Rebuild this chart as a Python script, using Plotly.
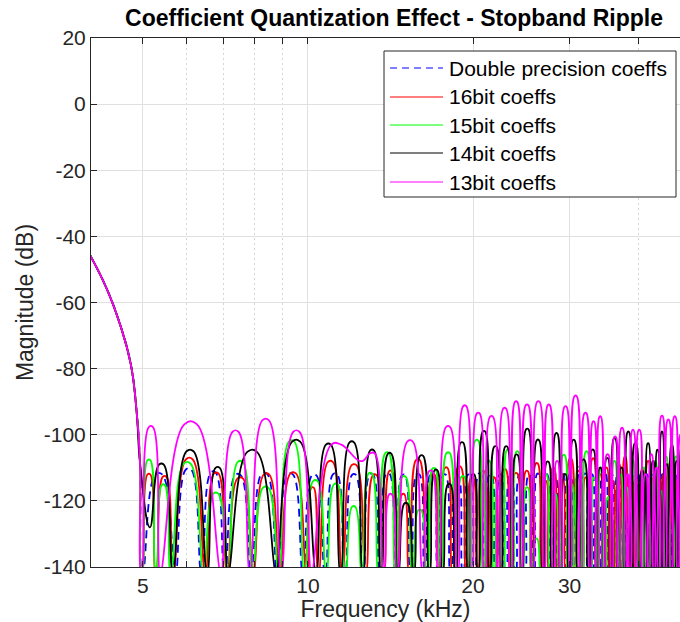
import math
import plotly.graph_objects as go

# ---------------- data ----------------
# shared pass/transition-band roll-off (identical for every coefficient set)
rolloff_khz = [4.0, 4.3, 4.55, 4.75, 4.87, 4.94]
rolloff_db = [-45.5, -56.0, -67.0, -78.5, -93.0, -108.5]

# stop band: frequencies of the nulls (kHz) and the peak level (dB) of each lobe between them
double_nulls = [4.99, 5.73, 6.40, 7.05, 7.88, 8.80, 9.80, 10.75, 11.68, 12.60, 13.52, 14.47,
                15.40, 16.36, 17.28, 18.22, 19.18, 20.10, 21.05, 22.00, 22.96, 23.90, 24.86,
                25.80, 26.75, 27.70, 28.66, 29.60, 30.56, 31.50, 32.46, 33.40, 34.36, 35.30,
                36.26, 37.20, 38.16, 39.10, 40.06, 41.00, 41.96, 42.90, 43.86, 44.80, 45.76,
                46.70, 47.66, 48.60]
double_peaks = [-112.0, -110.5, -111.4, -112.2, -111.8, -112.0, -112.3, -111.9, -112.1, -112.0,
                -111.8, -112.2, -112.0, -111.9, -112.1, -112.0, -112.2, -111.8, -112.0, -112.1,
                -111.9, -112.0, -112.2, -111.8, -112.0, -112.1, -111.9, -112.0, -112.2, -111.8,
                -112.0, -112.1, -111.9, -112.0, -112.2, -111.8, -112.0, -112.1, -111.9, -112.0,
                -112.2, -111.8, -112.0, -112.1, -111.9, -112.0, -112.1]

bit16_nulls = [4.98, 5.28, 5.68, 6.50, 7.12, 7.95, 8.88, 9.95, 10.45, 11.55, 12.75, 13.75,
               14.55, 15.30, 16.45, 17.40, 18.35, 19.45, 20.40, 21.35, 22.30, 23.40, 24.55,
               25.60, 26.70, 27.55, 28.50, 29.55, 30.70, 31.65, 32.60, 33.65, 34.55, 35.50,
               36.45, 37.40, 38.35, 39.35, 40.30, 41.25, 42.20, 43.15, 44.10, 45.05, 46.00,
               46.95, 47.90, 48.85]
bit16_peaks = [-112.0, -112.7, -107.4, -111.7, -113.2, -112.0, -111.7, -116.0, -108.2, -109.2,
               -112.2, -111.0, -118.0, -107.6, -112.0, -110.0, -109.7, -113.0, -111.0, -113.0,
               -110.5, -111.7, -111.0, -108.7, -114.0, -110.0, -112.0, -107.2, -111.0, -113.0,
               -107.2, -112.0, -110.0, -114.0, -109.0, -106.7, -112.0, -118.0, -110.0, -108.0,
               -113.0, -110.0, -112.0, -109.0, -111.0, -113.0, -110.0]

bit15_nulls = [4.98, 5.28, 5.62, 6.45, 7.15, 7.92, 8.85, 9.85, 10.80, 11.70, 12.55, 13.45,
               14.45, 15.50, 16.50, 17.45, 18.60, 19.75, 20.90, 21.85, 22.70, 23.60, 24.60,
               25.60, 26.60, 27.65, 28.75, 29.85, 30.65, 31.65, 32.80, 33.80, 34.80, 35.75,
               36.70, 37.65, 38.60, 39.55, 40.50, 41.50, 42.50, 43.50, 44.50, 45.50, 46.45,
               47.40, 48.40]
bit15_peaks = [-107.7, -115.2, -108.7, -117.8, -108.2, -116.0, -102.0, -114.0, -115.0, -121.8,
               -111.7, -105.5, -112.7, -122.8, -110.2, -105.5, -112.7, -101.7, -108.0, -114.0,
               -104.6, -105.1, -116.0, -131.5, -112.0, -118.0, -106.2, -115.0, -109.7, -105.1,
               -113.0, -110.0, -119.0, -108.0, -112.0, -116.0, -107.6, -121.0, -110.0, -113.0,
               -108.0, -117.0, -106.7, -111.0, -106.6, -114.0]

bit14_nulls = [5.15, 5.67, 6.55, 7.15, 8.75, 10.35, 11.47, 12.60, 13.60, 14.60, 15.60, 16.65,
               17.60, 18.60, 19.60, 20.45, 21.45, 22.50, 23.50, 24.55, 25.70, 26.85, 27.90,
               28.90, 29.95, 31.10, 32.50, 33.65, 34.60, 35.70, 36.80, 37.85, 38.95, 40.15,
               41.25, 42.20, 43.00, 43.80, 44.65, 45.60, 46.60, 47.55, 48.50]
bit14_peaks = [-109.0, -105.0, -110.0, -105.2, -102.1, -103.0, -102.3, -104.7, -105.7, -120.8,
               -106.4, -110.7, -115.0, -102.4, -112.0, -99.0, -103.6, -103.6, -106.1, -98.3,
               -101.6, -108.2, -99.6, -112.0, -101.6, -107.6, -104.6, -110.0, -107.1, -101.1,
               -110.0, -99.1, -102.6, -111.0, -102.6, -108.0, -104.6, -99.1, -109.0, -103.1,
               -108.0, -104.0]
bit14_shallow = {0: -128.0}          # minimum that does not reach the floor

bit13_nulls = [4.97, 5.38, 6.94, 7.84, 8.94, 10.15, 12.50, 13.75, 14.55, 16.20, 17.30, 18.75,
               19.90, 21.00, 22.25, 23.45, 24.50, 25.70, 26.95, 28.05, 28.90, 30.10, 31.45,
               32.70, 33.65, 34.60, 35.80, 36.85, 37.95, 38.65, 39.65, 40.75, 41.80, 42.80,
               43.65, 44.80, 46.05, 47.30, 48.50]
bit13_peaks = [-97.6, -96.8, -99.1, -95.6, -99.1, -103.0, -105.6, -118.0, -102.0, -111.0,
               -97.6, -91.3, -93.5, -94.5, -92.0, -90.0, -91.0, -90.0, -91.0, -108.0,
               -91.5, -88.3, -93.5, -96.0, -94.5, -106.0, -100.6, -98.0, -112.0, -98.6,
               -98.6, -112.0, -106.0, -110.0, -94.3, -95.5, -94.5, -100.0]
bit13_shallow = {6: -108.0}

series_names = ["Double precision coeffs", "16bit coeffs", "15bit coeffs", "14bit coeffs", "13bit coeffs"]
series_colors = ["#0000FF", "#FF0000", "#00FF00", "#000000", "#FF00FF"]

y_ticks = [-140, -120, -100, -80, -60, -40, -20, 0, 20]
y_ticktext = ["-140", "-120", "-100", "-80", "-60", "-40", "-20", "0", "20"]
x_ticks = [5, 10, 20, 30]
x_ticktext = ["5", "10", "20", "30"]
x_minor = [4, 6, 7, 8, 9, 40]

FLOOR = -142.0   # true nulls fall far below the -140 dB axis floor
FONT = "Liberation Sans, Arial, Helvetica, sans-serif"


def build(nulls, peaks, shallow):
    """Vertices for the spline: each null, then the lobe's peak level held around its centre."""
    xs = list(rolloff_khz)
    ys = list(rolloff_db)
    n = min(len(nulls) - 1, len(peaks))
    for i in range(n + 1):
        f = nulls[i]
        d = shallow.get(i)
        if d is None:
            xs += [f * 0.9985, f * 1.0015]
            ys += [FLOOR, FLOOR]
        else:
            xs.append(f)
            ys.append(d)
        if i < n:
            ratio = nulls[i + 1] / nulls[i]
            xs += [nulls[i] * ratio ** 0.4, nulls[i] * ratio ** 0.6]
            ys += [peaks[i], peaks[i]]
    return xs, ys


datasets = [
    (double_nulls, double_peaks, {}),
    (bit16_nulls, bit16_peaks, {}),
    (bit15_nulls, bit15_peaks, {}),
    (bit14_nulls, bit14_peaks, bit14_shallow),
    (bit13_nulls, bit13_peaks, bit13_shallow),
]

fig = go.Figure()
for (nl, pk, sh), name, col in zip(datasets, series_names, series_colors):
    xs, ys = build(nl, pk, sh)
    dash = "8px,5px" if name.startswith("Double") else "solid"
    fig.add_trace(go.Scatter(
        x=xs, y=ys, mode="lines", name=name, showlegend=False,
        line=dict(color=col, width=1.8, dash=dash, shape="spline", smoothing=1.3, simplify=False),
        hoverinfo="skip"))

# ---------------- layout ----------------
L, R, T, B = 91, 0, 38, 55
W, H = 680, 622
PW, PH = W - L - R, H - T - B


def px_x(px):
    return (px - L) / PW


def px_y(py):
    return (H - B - py) / PH


axis_col = "#262626"
fig.update_layout(
    width=W, height=H,
    margin=dict(l=L, r=R, t=T, b=B, pad=0),
    paper_bgcolor="white", plot_bgcolor="white",
    showlegend=False,
    font=dict(family=FONT, size=21, color=axis_col),
    title=dict(text="Coefficient Quantization Effect - Stopband Ripple",
               x=394 / W, xref="container", xanchor="center",
               y=1 - 18 / H, yref="container", yanchor="middle",
               font=dict(family=FONT, size=23, color="#000000", weight="bold")),
    xaxis=dict(type="log", range=[math.log10(4.021), math.log10(47.7)],
               tickmode="array", tickvals=x_ticks, ticktext=x_ticktext,
               ticks="inside", ticklen=6, tickwidth=1, tickcolor=axis_col,
               showline=True, linecolor=axis_col, linewidth=1, mirror="allticks",
               showgrid=True, gridcolor="#e0e0e0", gridwidth=1, zeroline=False,
               minor=dict(tickmode="array", tickvals=x_minor, ticks="inside",
                          ticklen=6, tickcolor=axis_col, showgrid=True,
                          gridcolor="#d6d6d6", griddash="2px,3px", gridwidth=1),
               tickfont=dict(size=21, color=axis_col),
               title=dict(text="Frequency (kHz)", font=dict(size=23, color=axis_col), standoff=4)),
    yaxis=dict(range=[-140, 20], tickmode="array", tickvals=y_ticks, ticktext=y_ticktext,
               ticks="inside", ticklen=6, tickwidth=1, tickcolor=axis_col,
               showline=True, linecolor=axis_col, linewidth=1, mirror=False,
               showgrid=True, gridcolor="#e0e0e0", gridwidth=1, zeroline=False,
               tickfont=dict(size=21, color=axis_col),
               title=dict(text="Magnitude (dB)", font=dict(size=23, color=axis_col), standoff=3)),
)

# ---------------- legend box (drawn like the reference) ----------------
box = dict(x0=384, x1=676, y0=51, y1=197)
rows = [68, 97, 125, 153, 182]
fig.add_shape(type="rect", xref="paper", yref="paper",
              x0=px_x(box["x0"]), x1=px_x(box["x1"]), y0=px_y(box["y1"]), y1=px_y(box["y0"]),
              line=dict(color=axis_col, width=1), fillcolor="white", layer="above")
for name, col, ry in zip(series_names, series_colors, rows):
    dash = "7px,5px" if name.startswith("Double") else "solid"
    fig.add_shape(type="line", xref="paper", yref="paper",
                  x0=px_x(390), x1=px_x(443), y0=px_y(ry), y1=px_y(ry),
                  line=dict(color=col, width=1.2, dash=dash), layer="above")
    fig.add_annotation(text=name, xref="paper", yref="paper", x=px_x(447), y=px_y(ry),
                       xanchor="left", yanchor="middle", showarrow=False,
                       font=dict(family=FONT, size=21, color="#000000"))

fig.write_html("out.html")
